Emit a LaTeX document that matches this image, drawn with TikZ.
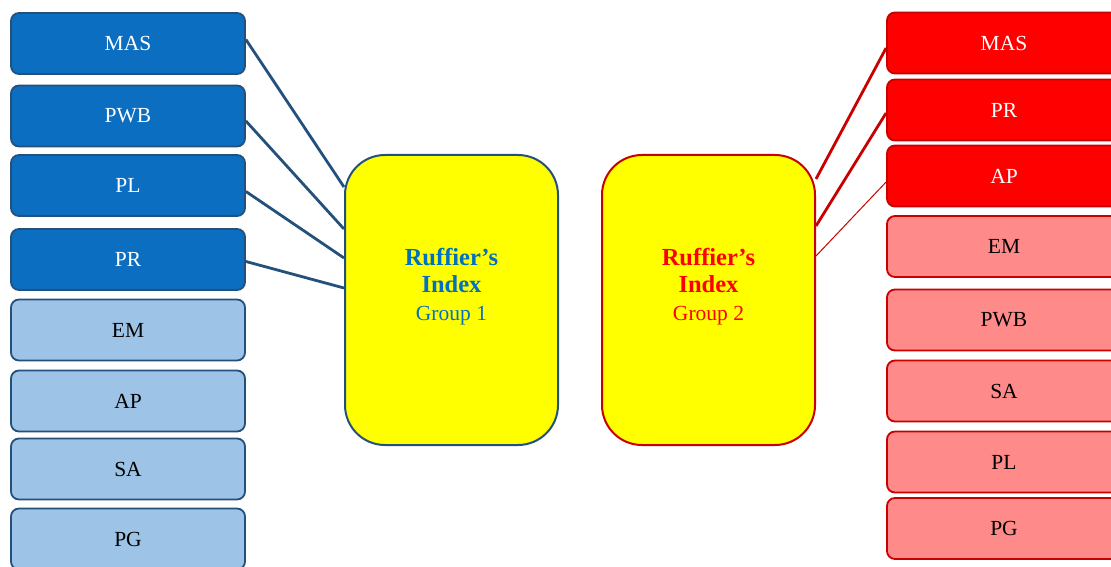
\documentclass[tikz,border=0pt]{standalone}
\usepackage{fontspec}
\setmainfont{Liberation Serif}
\usetikzlibrary{calc}
\definecolor{navyline}{HTML}{24507C}
\definecolor{darkbluefill}{HTML}{0B6EC1}
\definecolor{lightbluefill}{HTML}{9DC3E6}
\definecolor{redfill}{HTML}{FF0000}
\definecolor{redline}{HTML}{C80000}
\definecolor{pinkfill}{HTML}{FF8A8A}
\definecolor{bluetext}{HTML}{0070C0}
\definecolor{hubyellow}{RGB}{255,255,0}
\newcommand{\titlefont}{\fontsize{24.5}{28}\selectfont\bfseries}
\newcommand{\groupfont}{\fontsize{21.5}{28}\selectfont}
\tikzset{
  item/.style={rounded corners=8pt, minimum width=234pt, minimum height=61pt,
    line width=1.8pt, inner sep=0pt, font=\fontsize{21.5}{24}\selectfont},
  bluedark/.style={item, draw=navyline, fill=darkbluefill, text=white},
  bluelight/.style={item, draw=navyline, fill=lightbluefill, text=black},
  reddark/.style={item, draw=redline, fill=redfill, text=white},
  redlight/.style={item, draw=redline, fill=pinkfill, text=black},
  hub/.style={rounded corners=40pt, minimum width=213pt, minimum height=290pt,
    line width=2pt, fill=hubyellow, inner sep=0pt},
  hubtext/.style={align=center, inner sep=0pt, anchor=base,
    font=\fontsize{24.5}{27.5}\selectfont},
  blink/.style={draw=navyline, line width=2.8pt},
  rlink/.style={draw=redline, line width=2.8pt},
  rthin/.style={draw=redline, line width=1pt},
}
\begin{document}
\begin{tikzpicture}[x=1pt, y=-1pt]
\useasboundingbox (0,0) rectangle (1111,567);
\clip (0,0) rectangle (1111,567);

% group 1 factors
\node[bluedark]  (lmas) at (128,43.5) {MAS};
\node[bluedark]  (lpwb) at (128,116) {PWB};
\node[bluedark]  (lpl)  at (128,185.5) {PL};
\node[bluedark]  (lpr)  at (128,259.5) {PR};
\node[bluelight] (lem)  at (128,330) {EM};
\node[bluelight] (lap)  at (128,401) {AP};
\node[bluelight] (lsa)  at (128,469) {SA};
\node[bluelight] (lpg)  at (128,539) {PG};

% group 2 factors
\node[reddark]  (rmas) at (1004,43) {MAS};
\node[reddark]  (rpr)  at (1004,110) {PR};
\node[reddark]  (rap)  at (1004,176) {AP};
\node[redlight] (rem)  at (1004,246.5) {EM};
\node[redlight] (rpwb) at (1004,320) {PWB};
\node[redlight] (rsa)  at (1004,391) {SA};
\node[redlight] (rpl)  at (1004,462) {PL};
\node[redlight] (rpg)  at (1004,528.5) {PG};

% central index boxes
\node[hub, draw=navyline] (g1) at (451.5,300) {};
\node[hub, draw=redline]  (g2) at (708.5,300) {};
\node[hubtext, text=bluetext] (g1t) at (451.5,320)
  {\titlefont Ruffier’s\\\titlefont Index\\\groupfont Group 1};
\node[hubtext, text=redfill] (g2t) at (708.5,320)
  {\titlefont Ruffier’s\\\titlefont Index\\\groupfont Group 2};

% attachment points on the hub sides
\coordinate (a1) at ($(g1.north west)+(0,33)$);
\coordinate (a2) at ($(g1.north west)+(0,75)$);
\coordinate (a3) at ($(g1.north west)+(0,104)$);
\coordinate (a4) at ($(g1.north west)+(0,134)$);
\coordinate (b1) at ($(g2.north east)+(0,25)$);
\coordinate (b2) at ($(g2.north east)+(0,72)$);
\coordinate (b3) at ($(g2.north east)+(0,102)$);

% connectors
\draw[blink] ($(lmas.east)+(0,-4)$) -- (a1);
\draw[blink] ($(lpwb.east)+(0,5)$) -- (a2);
\draw[blink] ($(lpl.east)+(0,6)$) -- (a3);
\draw[blink] ($(lpr.east)+(0,2)$) -- (a4);
\draw[rlink] ($(rmas.west)+(0,5)$) -- (b1);
\draw[rlink] ($(rpr.west)+(0,3)$) -- (b2);
\draw[rthin] ($(rap.west)+(0,6)$) -- (b3);
\end{tikzpicture}
\end{document}
